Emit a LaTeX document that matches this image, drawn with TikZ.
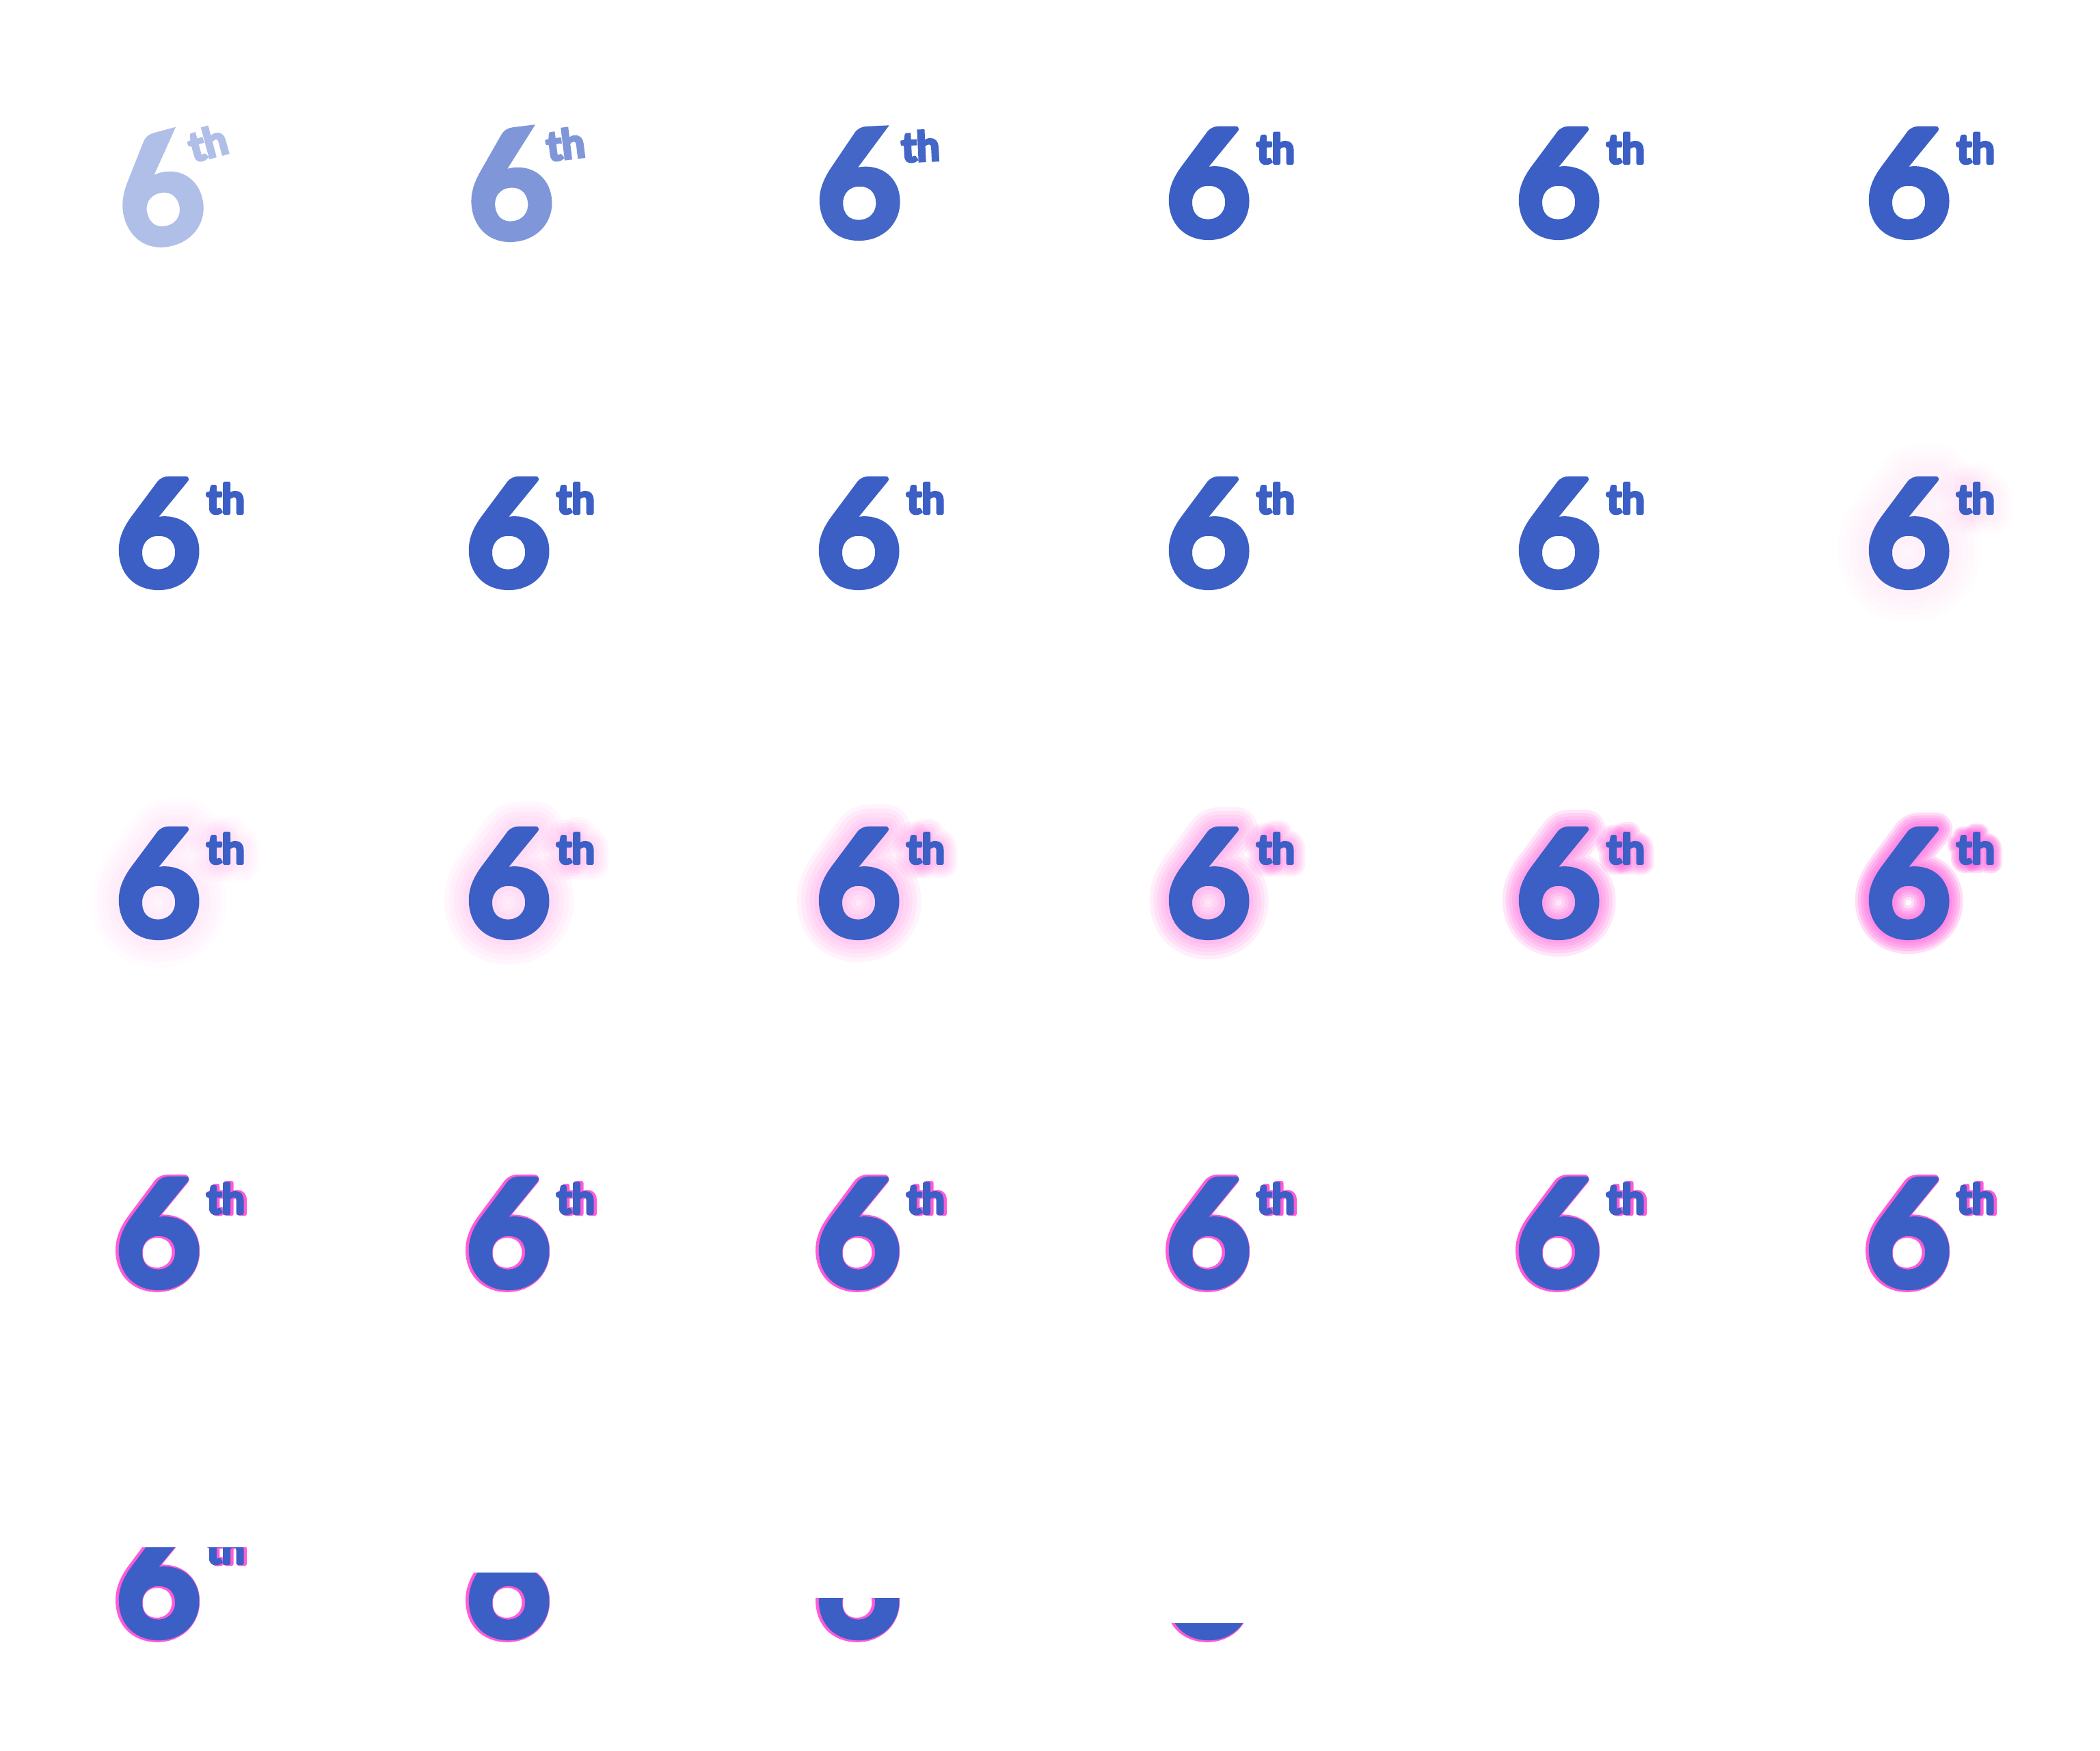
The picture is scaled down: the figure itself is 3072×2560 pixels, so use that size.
\documentclass[tikz,border=0pt]{standalone}
\usepackage{fontspec}
\newfontfamily\latofont{Lato}
\definecolor{sixblue}{HTML}{3B5FC5}
\definecolor{sixpink}{HTML}{FF5AD8}
\definecolor{glowpink}{HTML}{FF5CDB}
\tikzset{
  sixnum/.style={font=\latofont\bfseries\fontsize{54}{54}\selectfont\addfontfeatures{FakeBold=4}, anchor=base west, inner sep=0pt, outer sep=0pt, text=sixblue},
  sixsup/.style={font=\latofont\bfseries\fontsize{15}{15}\selectfont\addfontfeatures{FakeBold=6}, anchor=base west, inner sep=0pt, outer sep=0pt, text=sixblue},
  glownum/.style={sixnum, font=\latofont\bfseries\fontsize{54}{54}\selectfont\addfontfeatures{FakeBold=#1}},
  glowsup/.style={sixsup, font=\latofont\bfseries\fontsize{15}{15}\selectfont\addfontfeatures{FakeBold=#1}},
}
\newcommand\SixText[2]{\node[sixnum,#2] (#1a) at (169,345) {6};\node[sixsup,#2] (#1b) at (302,239) {th};}
\newcommand\GlowLayer[4]{\node[glownum=#2, text=glowpink, opacity=#4] (#1a) at (169,345) {6};\node[glowsup=#3, text=glowpink, opacity=#4] (#1b) at (302,239) {th};}
\newcommand\SixGlow[3]{%
  \foreach \gsix/\gsup [count=\gk] in {#3}{\edef\gtmp{\noexpand\GlowLayer{#1-\gk}{\gsix}{\gsup}{#2}}\gtmp}%
  \SixText{#1}{}}
\newcommand\SixEdge[1]{%
  \node[glownum=6.5, text=sixpink] (#1-sa) at (167,345) {6};%
  \node[glowsup=11, text=sixpink] (#1-sb) at (305,239) {th};%
  \SixText{#1}{}}
\begin{document}
\begin{tikzpicture}[x=0.25pt,y=-0.25pt,line join=round]
\fill[white] (0,0) rectangle (3072,2560);
\useasboundingbox (0,0) rectangle (3072,2560);
% row 1
\begin{scope}[shift={(0,0)}]
  \begin{scope}[transparency group, opacity=0.4]
  \begin{scope}[shift={(0,11)}, rotate around={15:(232,270)}, transform shape]
    \node[sixnum] (f0a) at (169,345) {6};
    \node[sixsup] (f0b) at (292,241) {th};
  \end{scope}
  \end{scope}
\end{scope}
\begin{scope}[shift={(512,0)}]
  \begin{scope}[transparency group, opacity=0.65]
  \begin{scope}[shift={(1,3)}, rotate around={7:(232,270)}, transform shape]
    \node[sixnum] (f1a) at (169,345) {6};
    \node[sixsup] (f1b) at (293,240) {th};
  \end{scope}
  \end{scope}
\end{scope}
\begin{scope}[shift={(1024,0)}]
  \begin{scope}[transparency group, opacity=0.95]
  \begin{scope}[shift={(0,1)}, rotate around={2.7:(232,270)}, transform shape]
    \node[sixnum] (f2a) at (169,345) {6};
    \node[sixsup] (f2b) at (297,239) {th};
  \end{scope}
  \end{scope}
\end{scope}
\begin{scope}[shift={(1536,0)}]\SixText{f3}{}\end{scope}
\begin{scope}[shift={(2048,0)}]\SixText{f4}{}\end{scope}
\begin{scope}[shift={(2560,0)}]\SixText{f5}{}\end{scope}
% row 2
\begin{scope}[shift={(0,512)}]\SixText{f6}{}\end{scope}
\begin{scope}[shift={(512,512)}]\SixText{f7}{}\end{scope}
\begin{scope}[shift={(1024,512)}]\SixText{f8}{}\end{scope}
\begin{scope}[shift={(1536,512)}]\SixText{f9}{}\end{scope}
\begin{scope}[shift={(2048,512)}]\SixText{f10}{}\end{scope}
\begin{scope}[shift={(2560,512)}]\SixGlow{f11}{0.015}{12.5/24.4,21/42.8,29.6/61.2,38.1/79.6,46.6/98}\end{scope}
% row 3
\begin{scope}[shift={(0,1024)}]\SixGlow{f12}{0.025}{11.4/22,18.8/38,26.2/54,33.6/70,41/86}\end{scope}
\begin{scope}[shift={(512,1024)}]\SixGlow{f13}{0.044}{10.7/20.4,17.3/34.8,24/49.2,30.7/63.6,37.3/78}\end{scope}
\begin{scope}[shift={(1024,1024)}]\SixGlow{f14}{0.069}{9.9/18.8,15.9/31.6,21.8/44.4,27.7/57.2,33.6/70}\end{scope}
\begin{scope}[shift={(1536,1024)}]\SixGlow{f15}{0.097}{9.2/17.2,14.4/28.4,19.6/39.6,24.7/50.8,29.9/62}\end{scope}
\begin{scope}[shift={(2048,1024)}]\SixGlow{f16}{0.148}{8.4/15.6,12.9/25.2,17.3/34.8,21.8/44.4,26.2/54}\end{scope}
\begin{scope}[shift={(2560,1024)}]\SixGlow{f17}{0.21}{7.7/14,11.4/22,15.1/30,18.8/38,22.5/46}\end{scope}
% row 4
\begin{scope}[shift={(0,1536)}]\SixEdge{f18}\end{scope}
\begin{scope}[shift={(512,1536)}]\SixEdge{f19}\end{scope}
\begin{scope}[shift={(1024,1536)}]\SixEdge{f20}\end{scope}
\begin{scope}[shift={(1536,1536)}]\SixEdge{f21}\end{scope}
\begin{scope}[shift={(2048,1536)}]\SixEdge{f22}\end{scope}
\begin{scope}[shift={(2560,1536)}]\SixEdge{f23}\end{scope}
% row 5
\begin{scope}[shift={(0,2048)}]\clip (0,215) rectangle (512,512);\SixEdge{f24}\end{scope}
\begin{scope}[shift={(512,2048)}]\clip (0,252) rectangle (512,512);\SixEdge{f25}\end{scope}
\begin{scope}[shift={(1024,2048)}]\clip (0,289) rectangle (512,512);\SixEdge{f26}\end{scope}
\begin{scope}[shift={(1536,2048)}]\clip (0,326) rectangle (512,512);\SixEdge{f27}\end{scope}
\end{tikzpicture}
\end{document}
